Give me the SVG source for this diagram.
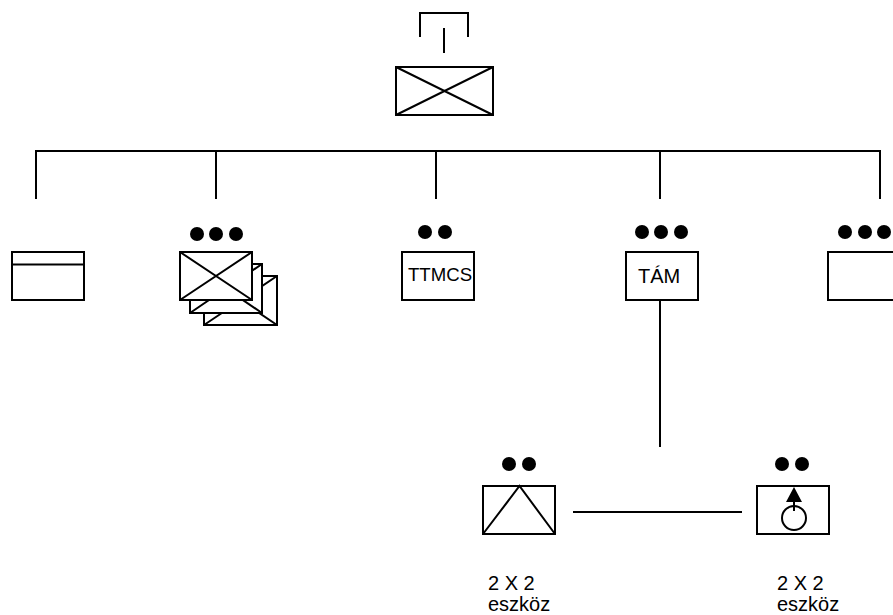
<svg xmlns="http://www.w3.org/2000/svg" width="893" height="615" viewBox="0 0 893 615">
<defs><style>
.s{fill:none;stroke:#000;stroke-width:2}
.w{fill:#fff;stroke:#000;stroke-width:2}
.t{font-family:"Liberation Sans",Arial,sans-serif;fill:#000;font-size:20px}
</style></defs>
<rect width="893" height="615" fill="#fff"/>
<g id="connectors">
<path class="s" d="M36 199V151H880V199M216 151V199M436 151V199M660 151V199M660 300V447M573 512H742"/>
</g>
<g id="top-node">
<path class="s" d="M420 37V13H468V37M444 28V53"/>
<rect class="s" x="396" y="67" width="97" height="48"/>
<path class="s" d="M396 67L493 115M493 67L396 115"/>
</g>
<g id="node-left">
<rect class="s" x="12" y="252" width="72" height="48"/>
<path class="s" d="M12 264.500H84"/>
</g>
<g id="node-stack">
<circle cx="197" cy="234" r="7"/><circle cx="216" cy="234" r="7"/><circle cx="236" cy="234" r="7"/>
<rect class="w" x="204" y="276" width="73" height="49"/>
<path class="s" d="M204 325L277 276M204 276L277 325"/>
<rect class="w" x="190" y="264" width="72" height="49"/>
<path class="s" d="M190 313L262 264M190 264L262 313"/>
<rect class="w" x="180" y="252" width="72" height="48"/>
<path class="s" d="M180 252L252 300M252 252L180 300"/>
</g>
<g id="node-ttmcs">
<circle cx="425" cy="232" r="7"/><circle cx="445" cy="232" r="7"/>
<rect class="s" x="402" y="252" width="72" height="48"/>
<text class="t" x="408" y="281" style="font-size:18.600px">TTMCS</text>
</g>
<g id="node-tam">
<circle cx="642" cy="232" r="7"/><circle cx="661" cy="232" r="7"/><circle cx="681" cy="232" r="7"/>
<rect class="s" x="626" y="252" width="72" height="48"/>
<text class="t" x="638" y="283">TÁM</text>
</g>
<g id="node-right">
<circle cx="845" cy="232" r="7"/><circle cx="865" cy="232" r="7"/><circle cx="884" cy="232" r="7"/>
<rect class="s" x="828" y="252" width="72" height="48"/>
</g>
<g id="node-triangle">
<circle cx="509" cy="464" r="7"/><circle cx="529" cy="464" r="7"/>
<rect class="s" x="483" y="486" width="72" height="48"/>
<path class="s" d="M483 534L519.500 486L555 534"/>
<text class="t" x="488" y="590">2 X 2</text>
<text class="t" x="488" y="610.500">eszköz</text>
</g>
<g id="node-circle">
<circle cx="782" cy="464" r="7"/><circle cx="802" cy="464" r="7"/>
<rect class="s" x="757" y="486" width="72" height="48"/>
<circle class="s" cx="794" cy="518" r="12"/>
<path d="M794 487L802 502H786Z"/>
<path class="s" d="M794 500V511"/>
<text class="t" x="777" y="590">2 X 2</text>
<text class="t" x="777" y="610.500">eszköz</text>
</g>
</svg>
